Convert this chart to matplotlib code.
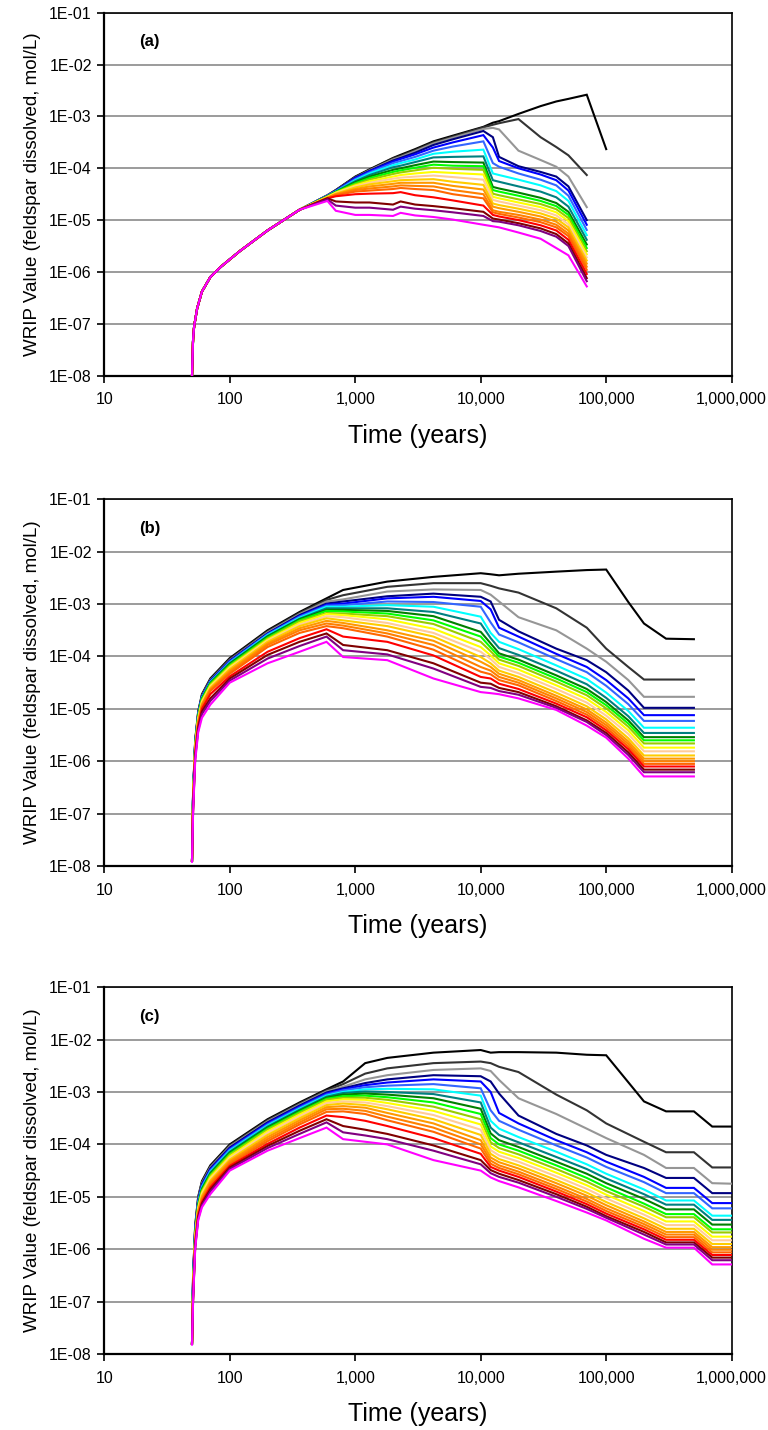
import numpy as np
import matplotlib
matplotlib.use("Agg")
import matplotlib.pyplot as plt
from matplotlib.ticker import FixedLocator, FuncFormatter, NullLocator

plt.rcParams['font.family'] = ['Liberation Sans', 'DejaVu Sans']

nan = float('nan')

# series colours (top curve -> bottom curve)
colors = ['#000000', '#333333', '#969696', '#000080', '#0000FF', '#3366FF',
          '#00FFFF', '#008080', '#008000', '#00FF00', '#99CC00', '#FFFF00',
          '#FFCC99', '#FFCC00', '#FF9900', '#FF8000', '#FF6600', '#FF0000',
          '#800000', '#800080', '#FF00FF']

# ---------------- panel (a): log10 of WRIP value ----------------
a_early_t = [50, 51, 52, 55, 60, 70, 85, 120, 200, 360]
a_early_v = [-8.0, -7.3, -7.05, -6.7, -6.38, -6.1, -5.9, -5.6, -5.2, -4.8]
a_t = [600, 700, 1000, 1300, 2000, 2300, 3000, 4200, 6000, 10500, 12500,
       14000, 20000, 30000, 40000, 50000, 70000, 100000]
a_vals = [
    [-4.52, -4.42, -4.16, -4.02, -3.80, -3.74, -3.63, -3.48, -3.37, -3.20, -3.12, -3.09, -2.95, -2.80, -2.71, -2.66, -2.58, -3.63],
    [-4.52, -4.42, -4.17, -4.03, -3.81, -3.76, -3.65, -3.50, -3.39, -3.21, -3.16, -3.13, -3.05, -3.40, -3.59, -3.75, -4.13, nan],
    [-4.52, -4.43, -4.18, -4.04, -3.83, -3.78, -3.67, -3.52, -3.41, -3.24, -3.22, -3.25, -3.66, -3.84, -3.97, -4.16, -4.75, nan],
    [-4.53, -4.43, -4.18, -4.05, -3.85, -3.80, -3.70, -3.55, -3.44, -3.28, -3.40, -3.78, -3.96, -4.07, -4.16, -4.35, -5.00, nan],
    [-4.53, -4.44, -4.19, -4.06, -3.87, -3.82, -3.73, -3.60, -3.50, -3.36, -3.60, -3.86, -4.00, -4.12, -4.23, -4.43, -5.09, nan],
    [-4.53, -4.44, -4.21, -4.08, -3.90, -3.86, -3.78, -3.66, -3.58, -3.48, -3.90, -3.97, -4.10, -4.22, -4.33, -4.53, -5.19, nan],
    [-4.54, -4.45, -4.23, -4.10, -3.94, -3.90, -3.83, -3.72, -3.68, -3.64, -4.10, -4.13, -4.22, -4.33, -4.44, -4.63, -5.29, nan],
    [-4.54, -4.45, -4.25, -4.13, -3.98, -3.95, -3.88, -3.79, -3.78, -3.77, -4.23, -4.26, -4.35, -4.45, -4.56, -4.74, -5.38, nan],
    [-4.54, -4.46, -4.27, -4.16, -4.03, -4.00, -3.94, -3.87, -3.88, -3.89, -4.36, -4.39, -4.47, -4.57, -4.67, -4.84, -5.47, nan],
    [-4.55, -4.46, -4.29, -4.19, -4.07, -4.04, -3.99, -3.93, -3.95, -3.96, -4.42, -4.45, -4.53, -4.63, -4.73, -4.90, -5.54, nan],
    [-4.55, -4.47, -4.31, -4.22, -4.11, -4.08, -4.04, -3.99, -4.01, -4.03, -4.49, -4.52, -4.60, -4.69, -4.79, -4.96, -5.60, nan],
    [-4.55, -4.47, -4.33, -4.25, -4.16, -4.13, -4.10, -4.07, -4.09, -4.12, -4.55, -4.58, -4.66, -4.75, -4.85, -5.02, -5.66, nan],
    [-4.56, -4.48, -4.35, -4.28, -4.20, -4.18, -4.16, -4.14, -4.17, -4.22, -4.61, -4.64, -4.72, -4.81, -4.91, -5.08, -5.72, nan],
    [-4.56, -4.49, -4.37, -4.31, -4.25, -4.23, -4.22, -4.21, -4.26, -4.32, -4.68, -4.71, -4.78, -4.87, -4.97, -5.14, -5.78, nan],
    [-4.57, -4.50, -4.40, -4.35, -4.30, -4.28, -4.28, -4.28, -4.34, -4.41, -4.74, -4.77, -4.84, -4.93, -5.03, -5.20, -5.84, nan],
    [-4.57, -4.51, -4.42, -4.39, -4.35, -4.33, -4.34, -4.35, -4.42, -4.50, -4.81, -4.84, -4.90, -4.99, -5.09, -5.26, -5.90, nan],
    [-4.58, -4.52, -4.45, -4.43, -4.40, -4.38, -4.40, -4.42, -4.50, -4.58, -4.85, -4.88, -4.95, -5.04, -5.14, -5.31, -5.96, nan],
    [-4.58, -4.54, -4.50, -4.49, -4.48, -4.46, -4.52, -4.56, -4.62, -4.72, -4.90, -4.93, -5.00, -5.10, -5.20, -5.38, -6.04, nan],
    [-4.58, -4.64, -4.66, -4.66, -4.70, -4.64, -4.70, -4.73, -4.77, -4.84, -4.97, -4.99, -5.06, -5.16, -5.27, -5.45, -6.12, nan],
    [-4.60, -4.72, -4.76, -4.76, -4.80, -4.74, -4.78, -4.81, -4.85, -4.92, -5.02, -5.03, -5.10, -5.21, -5.32, -5.50, -6.18, nan],
    [-4.63, -4.82, -4.90, -4.90, -4.92, -4.86, -4.91, -4.94, -4.99, -5.09, -5.12, -5.14, -5.24, -5.36, -5.54, -5.68, -6.28, nan],
]

# ---------------- panel (b) ----------------
b_t = [50, 51, 53, 56, 60, 70, 100, 200, 360, 590, 800, 1800, 4200, 10000,
       12000, 14000, 20000, 40000, 70000, 100000, 150000, 200000, 300000, 500000]
b_vals = [
    [-7.9, -6.60, -5.60, -5.05, -4.72, -4.42, -4.03, -3.50, -3.15, -2.89, -2.73, -2.57, -2.48, -2.41, -2.43, -2.45, -2.42, -2.38, -2.35, -2.34, -2.96, -3.37, -3.66, -3.67],
    [-7.9, -6.62, -5.62, -5.07, -4.74, -4.44, -4.05, -3.52, -3.17, -2.92, -2.83, -2.67, -2.60, -2.60, -2.65, -2.70, -2.78, -3.08, -3.45, -3.85, -4.20, -4.44, -4.44, -4.44],
    [-7.9, -6.63, -5.63, -5.08, -4.75, -4.45, -4.07, -3.54, -3.19, -2.95, -2.91, -2.76, -2.72, -2.73, -2.82, -2.95, -3.25, -3.50, -3.85, -4.10, -4.45, -4.77, -4.77, -4.77],
    [-7.9, -6.64, -5.64, -5.09, -4.76, -4.46, -4.08, -3.56, -3.21, -2.99, -2.95, -2.85, -2.80, -2.86, -2.95, -3.30, -3.52, -3.85, -4.07, -4.30, -4.65, -4.98, -4.98, -4.98],
    [-7.9, -6.65, -5.65, -5.10, -4.77, -4.47, -4.09, -3.57, -3.23, -3.01, -2.99, -2.89, -2.86, -2.94, -3.10, -3.45, -3.62, -3.95, -4.20, -4.45, -4.80, -5.12, -5.12, -5.12],
    [-7.9, -6.66, -5.66, -5.11, -4.78, -4.48, -4.10, -3.58, -3.24, -3.03, -3.02, -2.95, -2.96, -3.05, -3.35, -3.58, -3.73, -4.05, -4.30, -4.56, -4.91, -5.23, -5.23, -5.23],
    [-7.9, -6.67, -5.67, -5.12, -4.79, -4.49, -4.12, -3.59, -3.26, -3.05, -3.05, -3.02, -3.05, -3.24, -3.55, -3.72, -3.86, -4.17, -4.43, -4.69, -5.04, -5.36, -5.36, -5.36],
    [-7.9, -6.68, -5.68, -5.13, -4.80, -4.50, -4.13, -3.61, -3.28, -3.08, -3.08, -3.08, -3.15, -3.37, -3.65, -3.84, -3.97, -4.27, -4.53, -4.79, -5.14, -5.46, -5.46, -5.46],
    [-7.9, -6.69, -5.69, -5.14, -4.81, -4.51, -4.14, -3.62, -3.29, -3.11, -3.11, -3.13, -3.23, -3.53, -3.75, -3.94, -4.06, -4.36, -4.62, -4.87, -5.22, -5.54, -5.54, -5.54],
    [-7.9, -6.70, -5.70, -5.15, -4.82, -4.52, -4.16, -3.64, -3.31, -3.13, -3.14, -3.18, -3.31, -3.62, -3.83, -4.00, -4.12, -4.42, -4.68, -4.93, -5.28, -5.60, -5.60, -5.60],
    [-7.9, -6.72, -5.72, -5.17, -4.84, -4.54, -4.18, -3.66, -3.33, -3.17, -3.18, -3.23, -3.38, -3.72, -3.90, -4.06, -4.18, -4.48, -4.74, -4.99, -5.34, -5.66, -5.66, -5.66],
    [-7.9, -6.74, -5.74, -5.19, -4.86, -4.56, -4.20, -3.68, -3.36, -3.19, -3.21, -3.29, -3.47, -3.82, -3.98, -4.13, -4.25, -4.55, -4.81, -5.06, -5.41, -5.74, -5.74, -5.74],
    [-7.9, -6.76, -5.76, -5.21, -4.88, -4.58, -4.22, -3.70, -3.39, -3.23, -3.25, -3.36, -3.55, -3.91, -4.05, -4.20, -4.32, -4.62, -4.88, -5.13, -5.48, -5.81, -5.81, -5.81],
    [-7.9, -6.78, -5.78, -5.23, -4.90, -4.60, -4.24, -3.72, -3.42, -3.27, -3.31, -3.42, -3.62, -4.01, -4.13, -4.27, -4.39, -4.69, -4.95, -5.20, -5.56, -5.89, -5.89, -5.89],
    [-7.9, -6.80, -5.80, -5.25, -4.92, -4.62, -4.27, -3.75, -3.46, -3.32, -3.36, -3.50, -3.70, -4.10, -4.20, -4.33, -4.45, -4.75, -5.01, -5.26, -5.62, -5.95, -5.95, -5.95],
    [-7.9, -6.82, -5.82, -5.27, -4.94, -4.64, -4.30, -3.78, -3.50, -3.37, -3.41, -3.56, -3.78, -4.20, -4.27, -4.39, -4.50, -4.80, -5.06, -5.31, -5.67, -6.00, -6.00, -6.00],
    [-7.9, -6.84, -5.84, -5.29, -4.96, -4.66, -4.33, -3.82, -3.55, -3.42, -3.46, -3.62, -3.87, -4.29, -4.34, -4.45, -4.55, -4.85, -5.11, -5.36, -5.72, -6.05, -6.05, -6.05],
    [-7.9, -6.88, -5.88, -5.33, -5.00, -4.72, -4.38, -3.91, -3.65, -3.48, -3.62, -3.72, -3.98, -4.39, -4.42, -4.52, -4.62, -4.90, -5.16, -5.41, -5.77, -6.10, -6.10, -6.10],
    [-7.9, -6.92, -5.92, -5.37, -5.05, -4.80, -4.42, -3.97, -3.72, -3.56, -3.78, -3.88, -4.13, -4.50, -4.52, -4.60, -4.68, -4.95, -5.22, -5.46, -5.83, -6.16, -6.16, -6.16],
    [-7.9, -6.95, -5.95, -5.41, -5.10, -4.85, -4.46, -4.04, -3.80, -3.62, -3.88, -3.96, -4.23, -4.58, -4.60, -4.66, -4.73, -4.98, -5.25, -5.50, -5.88, -6.21, -6.21, -6.21],
    [-7.92, -7.00, -6.00, -5.45, -5.17, -4.92, -4.50, -4.13, -3.91, -3.72, -4.01, -4.07, -4.42, -4.68, -4.70, -4.72, -4.80, -5.02, -5.32, -5.55, -5.95, -6.29, -6.29, -6.29],
]

# ---------------- panel (c) ----------------
c_t = [50, 51, 53, 56, 60, 70, 100, 200, 360, 590, 800, 1200, 1800, 4200, 10000,
       12000, 14000, 20000, 40000, 70000, 100000, 200000, 300000, 500000, 700000, 1000000]
c_vals = [
    [-7.8, -6.50, -5.55, -5.00, -4.70, -4.40, -4.00, -3.52, -3.20, -2.95, -2.80, -2.45, -2.35, -2.25, -2.20, -2.25, -2.24, -2.24, -2.25, -2.29, -2.30, -3.18, -3.37, -3.37, -3.66, -3.66],
    [-7.8, -6.52, -5.57, -5.02, -4.72, -4.42, -4.02, -3.54, -3.22, -2.97, -2.85, -2.65, -2.55, -2.45, -2.42, -2.45, -2.52, -2.62, -3.05, -3.35, -3.60, -3.95, -4.15, -4.15, -4.44, -4.44],
    [-7.8, -6.55, -5.59, -5.04, -4.74, -4.44, -4.04, -3.56, -3.24, -2.99, -2.90, -2.76, -2.68, -2.58, -2.55, -2.60, -2.77, -3.12, -3.42, -3.70, -3.88, -4.20, -4.45, -4.45, -4.74, -4.75],
    [-7.8, -6.57, -5.61, -5.06, -4.76, -4.46, -4.06, -3.58, -3.26, -3.01, -2.93, -2.83, -2.76, -2.68, -2.70, -2.80, -3.03, -3.45, -3.80, -4.02, -4.20, -4.45, -4.64, -4.64, -4.93, -4.93],
    [-7.8, -6.60, -5.63, -5.08, -4.78, -4.48, -4.08, -3.60, -3.28, -3.03, -2.95, -2.87, -2.82, -2.76, -2.80, -3.00, -3.40, -3.60, -3.92, -4.15, -4.33, -4.62, -4.83, -4.83, -5.12, -5.12],
    [-7.8, -6.62, -5.65, -5.10, -4.80, -4.50, -4.10, -3.62, -3.30, -3.05, -2.97, -2.91, -2.88, -2.85, -2.93, -3.35, -3.55, -3.72, -4.02, -4.25, -4.43, -4.72, -4.93, -4.93, -5.22, -5.22],
    [-7.8, -6.65, -5.67, -5.12, -4.82, -4.52, -4.12, -3.64, -3.32, -3.07, -3.00, -2.95, -2.94, -2.95, -3.07, -3.55, -3.70, -3.86, -4.14, -4.38, -4.56, -4.86, -5.07, -5.07, -5.36, -5.36],
    [-7.8, -6.67, -5.69, -5.14, -4.84, -4.54, -4.14, -3.66, -3.34, -3.09, -3.02, -2.99, -3.00, -3.04, -3.20, -3.68, -3.82, -3.96, -4.24, -4.47, -4.65, -4.95, -5.15, -5.15, -5.44, -5.44],
    [-7.8, -6.70, -5.71, -5.16, -4.86, -4.56, -4.16, -3.68, -3.36, -3.11, -3.05, -3.03, -3.05, -3.12, -3.32, -3.79, -3.92, -4.05, -4.33, -4.56, -4.74, -5.04, -5.24, -5.24, -5.53, -5.53],
    [-7.8, -6.72, -5.73, -5.18, -4.88, -4.58, -4.18, -3.70, -3.38, -3.13, -3.08, -3.07, -3.10, -3.20, -3.42, -3.88, -4.00, -4.12, -4.40, -4.64, -4.82, -5.13, -5.33, -5.33, -5.62, -5.62],
    [-7.8, -6.75, -5.75, -5.20, -4.90, -4.60, -4.20, -3.72, -3.40, -3.15, -3.11, -3.11, -3.15, -3.28, -3.52, -3.96, -4.07, -4.19, -4.47, -4.71, -4.89, -5.19, -5.39, -5.39, -5.68, -5.68],
    [-7.8, -6.77, -5.77, -5.22, -4.92, -4.63, -4.23, -3.75, -3.43, -3.18, -3.14, -3.15, -3.21, -3.36, -3.62, -4.04, -4.14, -4.26, -4.54, -4.78, -4.96, -5.27, -5.47, -5.47, -5.76, -5.76],
    [-7.8, -6.80, -5.79, -5.24, -4.95, -4.66, -4.26, -3.78, -3.46, -3.21, -3.18, -3.20, -3.27, -3.44, -3.72, -4.11, -4.21, -4.33, -4.61, -4.85, -5.03, -5.34, -5.54, -5.54, -5.83, -5.83],
    [-7.8, -6.82, -5.81, -5.26, -4.98, -4.69, -4.29, -3.82, -3.50, -3.25, -3.22, -3.25, -3.33, -3.52, -3.82, -4.18, -4.28, -4.40, -4.68, -4.92, -5.10, -5.41, -5.61, -5.61, -5.90, -5.90],
    [-7.8, -6.85, -5.83, -5.28, -5.01, -4.72, -4.32, -3.86, -3.54, -3.29, -3.27, -3.30, -3.40, -3.60, -3.92, -4.25, -4.34, -4.46, -4.74, -4.98, -5.16, -5.47, -5.67, -5.67, -5.96, -5.96],
    [-7.8, -6.87, -5.86, -5.30, -5.04, -4.75, -4.35, -3.90, -3.58, -3.33, -3.32, -3.36, -3.47, -3.68, -4.00, -4.31, -4.40, -4.52, -4.80, -5.04, -5.22, -5.52, -5.72, -5.72, -6.01, -6.01],
    [-7.8, -6.90, -5.88, -5.33, -5.07, -4.78, -4.38, -3.94, -3.62, -3.38, -3.37, -3.42, -3.54, -3.76, -4.08, -4.37, -4.45, -4.57, -4.85, -5.09, -5.27, -5.57, -5.77, -5.77, -6.06, -6.06],
    [-7.8, -6.92, -5.91, -5.36, -5.10, -4.82, -4.41, -3.99, -3.68, -3.45, -3.48, -3.55, -3.65, -3.88, -4.18, -4.43, -4.50, -4.62, -4.90, -5.14, -5.32, -5.62, -5.82, -5.82, -6.11, -6.11],
    [-7.8, -6.95, -5.94, -5.39, -5.13, -4.86, -4.44, -4.03, -3.74, -3.52, -3.65, -3.72, -3.80, -4.02, -4.30, -4.49, -4.56, -4.68, -4.95, -5.19, -5.37, -5.67, -5.87, -5.87, -6.16, -6.16],
    [-7.8, -6.97, -5.97, -5.42, -5.16, -4.90, -4.47, -4.07, -3.80, -3.58, -3.77, -3.83, -3.90, -4.12, -4.38, -4.55, -4.62, -4.73, -5.00, -5.23, -5.40, -5.72, -5.91, -5.91, -6.21, -6.21],
    [-7.82, -7.00, -6.00, -5.45, -5.20, -4.95, -4.50, -4.12, -3.88, -3.68, -3.90, -3.95, -4.00, -4.30, -4.50, -4.63, -4.70, -4.82, -5.08, -5.30, -5.45, -5.80, -5.97, -5.97, -6.29, -6.29],
]

panel_labels = ['(a)', '(b)', '(c)']
x_ticks = [10, 100, 1000, 10000, 100000, 1000000]
y_ticks = [1e-8, 1e-7, 1e-6, 1e-5, 1e-4, 1e-3, 1e-2, 1e-1]
x_title = 'Time (years)'
y_title = 'WRIP Value (feldspar dissolved, mol/L)'

fig = plt.figure(figsize=(7.68, 14.30), dpi=100)
left, width = 0.1358, 0.8169
boxes = [(0.7374, 0.2536), (0.3944, 0.2564), (0.0531, 0.2566)]

for k, (bottom, height) in enumerate(boxes):
    ax = fig.add_axes([left, bottom, width, height])
    if k == 0:
        series = [(a_early_t + a_t, a_early_v + row) for row in a_vals]
    elif k == 1:
        series = [(b_t, row) for row in b_vals]
    else:
        series = [(c_t, row) for row in c_vals]
    for (tt, vv), col in zip(series, colors):
        tt = np.array(tt, dtype=float)
        vv = np.array(vv, dtype=float)
        m = ~np.isnan(vv)
        ax.plot(tt[m], 10.0 ** vv[m], color=col, lw=1.5, solid_joinstyle='miter',
                zorder=3)
    ax.set_xscale('log')
    ax.set_yscale('log')
    ax.set_xlim(10, 1e6)
    ax.set_ylim(1e-8, 1e-1)
    ax.xaxis.set_major_locator(FixedLocator(x_ticks))
    ax.xaxis.set_minor_locator(NullLocator())
    ax.yaxis.set_major_locator(FixedLocator(y_ticks))
    ax.yaxis.set_minor_locator(NullLocator())
    ax.xaxis.set_major_formatter(FuncFormatter(lambda v, p: f"{int(round(v)):,}"))
    ax.yaxis.set_major_formatter(FuncFormatter(
        lambda v, p: "1E-%02d" % int(round(-np.log10(v)))))
    ax.grid(True, axis='y', color='#808080', lw=1.1, zorder=1)
    ax.set_axisbelow(True)
    ax.tick_params(axis='both', direction='out', length=5, width=1.2,
                   labelsize=11.5, pad=4)
    ax.tick_params(axis='x', pad=7)
    for s in ['left', 'bottom']:
        ax.spines[s].set_linewidth(1.6)
    for s in ['top', 'right']:
        ax.spines[s].set_linewidth(1.2)
    ax.set_xlabel(x_title, fontsize=18, labelpad=12)
    ax.set_ylabel(y_title, fontsize=13.5, labelpad=6)
    ax.text(0.055, 0.92, panel_labels[k], transform=ax.transAxes,
            fontsize=12, fontweight='bold', va='center', ha='left')

fig.savefig('out.png', dpi=100)
